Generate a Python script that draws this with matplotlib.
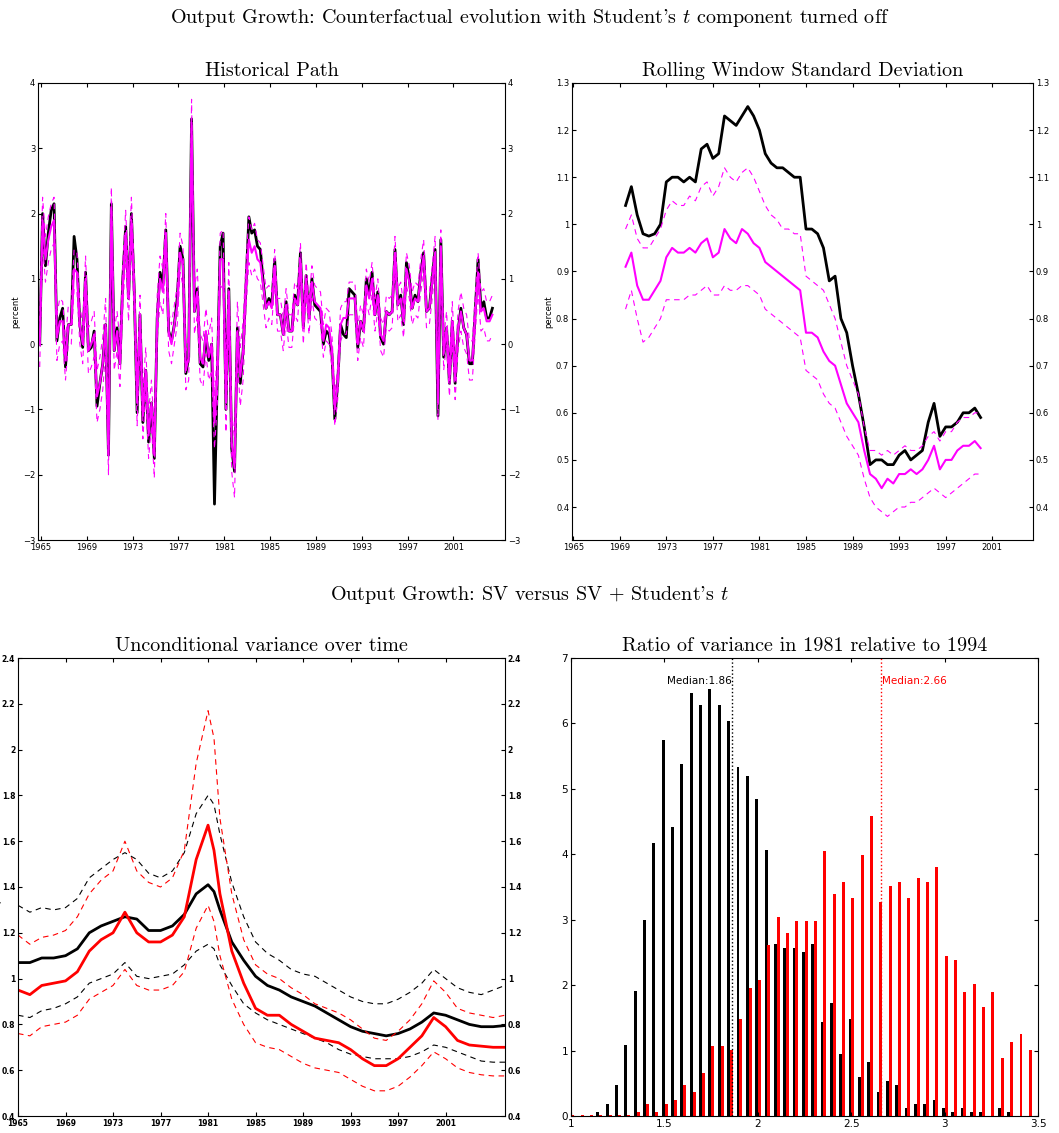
import matplotlib
matplotlib.use("Agg")
import matplotlib.pyplot as plt
import numpy as np

plt.rcParams['mathtext.fontset'] = 'cm'

# ---- panel 1: historical path (quarterly, 1965Q1 onward)
actual = [0.0, 2.0, 1.2, 1.7, 2.05, 2.15, 0.05, 0.4, 0.55, -0.35, 0.3, 0.3,
          1.65, 1.3, 0.3, -0.05, 1.1, -0.1, -0.05, 0.2, -0.95, -0.6, -0.3, 0.3,
          -1.7, 2.15, -0.1, 0.25, -0.3, 1.0, 1.8, 0.7, 2.0, 0.8, -1.05, 0.45,
          -1.2, -0.4, -1.5, -0.9, -1.75, 0.4, 1.1, 0.9, 1.75, 0.2, 0.05, 0.3,
          0.7, 1.5, 1.3, -0.45, -0.2, 3.45, 0.5, 0.85, -0.3, -0.35, 0.15, -0.25,
          0.0, -2.45, -0.5, 1.5, 1.7, -1.0, 0.85, -1.6, -1.95, 0.25, -0.6, -0.1,
          0.9, 1.95, 1.7, 1.75, 1.5, 1.45, 0.95, 0.55, 0.7, 0.6, 1.3, 0.45,
          0.45, 0.15, 0.65, 0.2, 0.2, 0.75, 0.6, 1.4, 0.25, 1.05, 0.4, 1.0,
          0.6, 0.55, 0.5, 0.0, 0.2, 0.15, -0.15, -1.15, -0.6, 0.3, 0.15, 0.1,
          0.85, 0.8, 0.75, -0.05, 0.35, 0.2, 1.0, 0.75, 1.1, 0.45, 0.8, 0.1,
          0.0, 0.5, 0.45, 0.5, 1.45, 0.6, 0.75, 0.3, 1.25, 1.0, 0.55, 0.75,
          0.65, 1.1, 1.4, 0.5, 0.55, 1.0, 1.45, -1.1, 1.6, -0.2, 0.25, -0.6,
          0.35, -0.6, 0.2, 0.55, 0.25, 0.15, -0.3, -0.3, 0.5, 1.3, 0.55, 0.65,
          0.4, 0.4, 0.55]
counterf = [0.0, 1.9, 1.3, 1.6, 1.8, 1.9, 0.1, 0.35, 0.35, -0.25, 0.3, 0.3,
            1.15, 1.1, 0.3, 0.0, 1.0, -0.1, 0.0, 0.15, -0.8, -0.6, -0.3, 0.3,
            -1.7, 2.1, -0.1, 0.2, -0.3, 0.9, 1.7, 0.7, 1.9, 0.8, -0.9, 0.4,
            -1.1, -0.4, -1.4, -0.9, -1.7, 0.4, 1.0, 0.8, 1.7, 0.2, 0.0, 0.3,
            0.6, 1.4, 1.2, -0.4, -0.2, 3.4, 0.5, 0.8, -0.2, -0.3, 0.2, -0.2,
            0.0, -1.2, -0.5, 1.3, 1.3, -0.9, 0.8, -1.5, -1.9, 0.2, -0.5, -0.1,
            0.9, 1.6, 1.4, 1.5, 1.3, 1.25, 0.9, 0.55, 0.65, 0.55, 1.2, 0.45,
            0.45, 0.15, 0.6, 0.2, 0.2, 0.7, 0.6, 1.3, 0.25, 1.0, 0.4, 0.95,
            0.65, 0.6, 0.55, 0.05, 0.3, 0.25, -0.1, -1.0, -0.6, 0.3, 0.4, 0.4,
            0.7, 0.7, 0.7, 0.0, 0.35, 0.2, 0.9, 0.7, 1.0, 0.45, 0.75, 0.15,
            0.05, 0.5, 0.45, 0.5, 1.4, 0.6, 0.7, 0.35, 1.15, 0.95, 0.55, 0.7,
            0.65, 1.05, 1.35, 0.5, 0.55, 0.95, 1.4, -0.9, 1.5, -0.15, 0.25, -0.55,
            0.35, -0.55, 0.2, 0.5, 0.25, 0.15, -0.25, -0.25, 0.45, 1.1, 0.5, 0.55,
            0.35, 0.35, 0.45]
band_width = [0.35, 0.35, 0.3, 0.3, 0.35, 0.4, 0.3, 0.35, 0.35, 0.35,
              0.35, 0.3, 0.3, 0.35, 0.35, 0.4, 0.45, 0.45, 0.35, 0.3,
              0.25, 0.25, 0.25, 0.25, 0.25, 0.25, 0.25, 0.25, 0.25, 0.25,
              0.25, 0.25, 0.25, 0.25, 0.25, 0.25, 0.3, 0.3, 0.3, 0.3, 0.3]

# ---- panel 2: rolling window std (semiannual, 1969.5 - 2000.0)
roll_actual = [1.04, 1.08, 1.02, 0.98, 0.975, 0.98, 1.0, 1.09, 1.10, 1.10,
               1.09, 1.10, 1.09, 1.16, 1.17, 1.14, 1.15, 1.23, 1.22, 1.21,
               1.23, 1.25, 1.23, 1.20, 1.15, 1.13, 1.12, 1.12, 1.11, 1.10,
               1.10, 0.99, 0.99, 0.98, 0.95, 0.88, 0.89, 0.80, 0.77, 0.70,
               0.64, 0.57, 0.49, 0.50, 0.50, 0.49, 0.49, 0.51, 0.52, 0.50,
               0.51, 0.52, 0.58, 0.62, 0.55, 0.57, 0.57, 0.58, 0.60, 0.60,
               0.61, 0.59]
roll_cf = [0.91, 0.94, 0.87, 0.84, 0.84, 0.86, 0.88, 0.93, 0.95, 0.94,
           0.94, 0.95, 0.94, 0.96, 0.97, 0.93, 0.94, 0.99, 0.97, 0.96,
           0.99, 0.98, 0.96, 0.95, 0.92, 0.91, 0.90, 0.89, 0.88, 0.87,
           0.86, 0.77, 0.77, 0.76, 0.73, 0.71, 0.70, 0.66, 0.62, 0.60,
           0.58, 0.52, 0.47, 0.46, 0.44, 0.46, 0.45, 0.47, 0.47, 0.48,
           0.47, 0.48, 0.50, 0.53, 0.48, 0.50, 0.50, 0.52, 0.53, 0.53,
           0.54, 0.525]
roll_up = [0.99, 1.02, 0.97, 0.95, 0.95, 0.97, 0.99, 1.03, 1.05, 1.04,
           1.04, 1.06, 1.05, 1.08, 1.09, 1.06, 1.08, 1.12, 1.10, 1.09,
           1.11, 1.12, 1.10, 1.07, 1.04, 1.02, 1.01, 0.99, 0.99, 0.98,
           0.98, 0.89, 0.88, 0.87, 0.86, 0.83, 0.80, 0.75, 0.70, 0.67,
           0.64, 0.57, 0.52, 0.52, 0.51, 0.52, 0.51, 0.52, 0.53, 0.52,
           0.52, 0.53, 0.55, 0.56, 0.54, 0.56, 0.56, 0.58, 0.59, 0.59,
           0.60, 0.60]
roll_lo = [0.82, 0.86, 0.80, 0.75, 0.76, 0.78, 0.80, 0.84, 0.84, 0.84,
           0.84, 0.85, 0.85, 0.86, 0.87, 0.85, 0.85, 0.87, 0.86, 0.86,
           0.87, 0.87, 0.86, 0.85, 0.82, 0.81, 0.80, 0.79, 0.78, 0.77,
           0.76, 0.69, 0.68, 0.67, 0.64, 0.62, 0.61, 0.58, 0.55, 0.53,
           0.51, 0.46, 0.42, 0.40, 0.39, 0.38, 0.39, 0.40, 0.40, 0.41,
           0.41, 0.42, 0.43, 0.44, 0.43, 0.42, 0.43, 0.44, 0.45, 0.46,
           0.47, 0.47]

# ---- panel 3: unconditional variance
var_years = [1965, 1966, 1967, 1968, 1969, 1970, 1971, 1972, 1973, 1974, 1975,
             1976, 1977, 1978, 1979, 1980, 1981, 1981.5, 1982, 1983, 1984, 1985,
             1986, 1987, 1988, 1989, 1990, 1991, 1992, 1993, 1994, 1995, 1996,
             1997, 1998, 1999, 2000, 2001, 2002, 2003, 2004, 2005, 2006]
sv = [1.07, 1.07, 1.09, 1.09, 1.10, 1.13, 1.20, 1.23, 1.25, 1.27, 1.26, 1.21,
      1.21, 1.23, 1.28, 1.37, 1.41, 1.38, 1.30, 1.16, 1.08, 1.01, 0.97, 0.95,
      0.92, 0.90, 0.88, 0.85, 0.82, 0.79, 0.77, 0.76, 0.75, 0.76, 0.78, 0.81,
      0.85, 0.84, 0.82, 0.80, 0.79, 0.79, 0.795]
sv_up = [1.32, 1.29, 1.31, 1.30, 1.31, 1.35, 1.44, 1.48, 1.52, 1.55, 1.52, 1.46,
         1.44, 1.47, 1.55, 1.72, 1.80, 1.76, 1.63, 1.42, 1.27, 1.16, 1.11, 1.08,
         1.04, 1.02, 1.01, 0.98, 0.95, 0.92, 0.90, 0.89, 0.89, 0.91, 0.94, 0.98,
         1.04, 1.00, 0.96, 0.94, 0.93, 0.95, 0.97]
sv_lo = [0.84, 0.83, 0.86, 0.87, 0.89, 0.92, 0.98, 1.00, 1.02, 1.07, 1.01, 1.00,
         1.01, 1.02, 1.06, 1.12, 1.15, 1.13, 1.06, 0.97, 0.89, 0.85, 0.82, 0.80,
         0.78, 0.76, 0.74, 0.72, 0.69, 0.67, 0.66, 0.65, 0.65, 0.65, 0.66, 0.68,
         0.71, 0.70, 0.68, 0.66, 0.64, 0.635, 0.635]
svt = [0.95, 0.93, 0.97, 0.98, 0.99, 1.03, 1.12, 1.17, 1.20, 1.29, 1.20, 1.16,
       1.16, 1.19, 1.27, 1.52, 1.67, 1.56, 1.37, 1.12, 0.98, 0.87, 0.84, 0.84,
       0.80, 0.77, 0.74, 0.73, 0.72, 0.69, 0.65, 0.62, 0.62, 0.65, 0.70, 0.75,
       0.83, 0.79, 0.73, 0.71, 0.705, 0.70, 0.70]
svt_up = [1.19, 1.15, 1.18, 1.19, 1.21, 1.27, 1.37, 1.43, 1.47, 1.60, 1.47, 1.42,
          1.40, 1.44, 1.56, 1.94, 2.17, 2.05, 1.70, 1.37, 1.17, 1.06, 1.02, 1.00,
          0.96, 0.93, 0.89, 0.87, 0.85, 0.82, 0.78, 0.74, 0.73, 0.77, 0.82, 0.89,
          0.99, 0.94, 0.87, 0.85, 0.84, 0.83, 0.84]
svt_lo = [0.76, 0.75, 0.79, 0.80, 0.81, 0.84, 0.91, 0.94, 0.97, 1.04, 0.97, 0.95,
          0.95, 0.97, 1.03, 1.22, 1.32, 1.25, 1.10, 0.91, 0.80, 0.72, 0.70, 0.69,
          0.66, 0.63, 0.61, 0.60, 0.59, 0.56, 0.53, 0.51, 0.51, 0.53, 0.57, 0.62,
          0.68, 0.65, 0.61, 0.59, 0.58, 0.575, 0.575]

# ---- panel 4: histogram of variance ratio
bins = [1.0, 1.05, 1.1, 1.15, 1.2, 1.25, 1.3, 1.35, 1.4, 1.45, 1.5, 1.55, 1.6,
        1.65, 1.7, 1.75, 1.8, 1.85, 1.9, 1.95, 2.0, 2.05, 2.1, 2.15, 2.2, 2.25,
        2.3, 2.35, 2.4, 2.45, 2.5, 2.55, 2.6, 2.65, 2.7, 2.75, 2.8, 2.85, 2.9,
        2.95, 3.0, 3.05, 3.1, 3.15, 3.2, 3.25, 3.3, 3.35, 3.4, 3.45, 3.5]
hist_sv = [0, 0, 0, 0.06, 0.18, 0.48, 1.08, 1.91, 3.0, 4.18, 5.74, 4.42, 5.38,
           6.47, 6.28, 6.52, 6.28, 6.04, 5.33, 5.20, 4.84, 4.07, 2.63, 2.57, 2.57,
           2.51, 2.63, 1.43, 1.73, 0.95, 1.49, 0.59, 0.83, 0.36, 0.54, 0.48, 0.12,
           0.18, 0.18, 0.24, 0.12, 0.06, 0.12, 0.06, 0.06, 0, 0.12, 0.06, 0, 0, 0]
hist_svt = [0.01, 0.01, 0.01, 0.01, 0.01, 0.01, 0.01, 0.06, 0.18, 0.06, 0.18, 0.24,
            0.48, 0.36, 0.65, 1.07, 1.07, 1.01, 1.49, 1.96, 2.08, 2.62, 3.04, 2.80,
            2.98, 2.98, 2.98, 4.05, 3.39, 3.57, 3.33, 3.99, 4.58, 3.27, 3.51, 3.57,
            3.33, 3.63, 3.57, 3.81, 2.44, 2.38, 1.90, 2.02, 1.66, 1.90, 0.89, 1.13,
            1.25, 1.01, 1.0]
median_sv = 1.86
median_svt = 2.66

year_ticks = list(range(1965, 2004, 4))
W, H = 1059, 1133


def box(x0, y0, x1, y1):
    return [x0 / W, 1 - y1 / H, (x1 - x0) / W, (y1 - y0) / H]


def style(ax, right_labels=True, size=6):
    ax.tick_params(direction='in', top=True, right=True, labelsize=size,
                   labelright=right_labels, length=3, pad=2)
    for s in ax.spines.values():
        s.set_linewidth(0.8)


fig = plt.figure(figsize=(W / 100, H / 100), dpi=100)
tfont = dict(family=['cmr10', 'DejaVu Serif'], fontsize=14.5)

fig.text(0.5, 0.984, "Output Growth: Counterfactual evolution with Student's $t$ component turned off",
         ha='center', va='center', **tfont)
fig.text(0.5, 0.475, "Output Growth: SV versus SV + Student's $t$", ha='center', va='center', **tfont)

dash = (0, (5, 4))

# panel 1
ax1 = fig.add_axes(box(38, 83, 505, 540))
q = 1964.9 + 0.25 * np.arange(len(actual))
bw = np.repeat(band_width, 4)[:len(counterf)]
cf = np.array(counterf)
ax1.plot(q, actual, color='black', lw=2)
ax1.plot(q, cf, color='magenta', lw=1.5)
ax1.plot(q, cf + bw, color='magenta', lw=0.8, ls=dash)
ax1.plot(q, cf - bw, color='magenta', lw=0.8, ls=dash)
ax1.set_xlim(1964.75, 2005.5)
ax1.set_ylim(-3, 4)
ax1.set_xticks(year_ticks)
ax1.set_ylabel('percent', fontsize=6, labelpad=2)
ax1.set_title('Historical Path', pad=5, **tfont)
style(ax1)

# panel 2
ax2 = fig.add_axes(box(572, 83, 1033, 540))
sx = 1969.5 + 0.5 * np.arange(len(roll_actual))
ax2.plot(sx, roll_actual, color='black', lw=2)
ax2.plot(sx, roll_cf, color='magenta', lw=1.5)
ax2.plot(sx, roll_up, color='magenta', lw=0.8, ls=dash)
ax2.plot(sx, roll_lo, color='magenta', lw=0.8, ls=dash)
ax2.set_xlim(1964.9, 2004.5)
ax2.set_ylim(0.33, 1.3)
ax2.set_yticks(np.arange(0.4, 1.31, 0.1))
ax2.set_yticklabels(['0.4', '0.5', '0.6', '0.7', '0.8', '0.9', '1', '1.1', '1.2', '1.3'])
ax2.set_xticks(year_ticks)
ax2.set_ylabel('percent', fontsize=6, labelpad=2)
ax2.set_title('Rolling Window Standard Deviation', pad=5, **tfont)
style(ax2)

# panel 3
ax3 = fig.add_axes(box(18, 658, 505, 1116))
ax3.plot(var_years, sv, color='black', lw=2)
ax3.plot(var_years, sv_up, color='black', lw=0.8, ls=dash)
ax3.plot(var_years, sv_lo, color='black', lw=0.8, ls=dash)
ax3.plot(var_years, svt, color='red', lw=2)
ax3.plot(var_years, svt_up, color='red', lw=0.8, ls=dash)
ax3.plot(var_years, svt_lo, color='red', lw=0.8, ls=dash)
ax3.set_xlim(1965, 2006)
ax3.set_ylim(0.4, 2.4)
ax3.set_yticks(np.arange(0.4, 2.41, 0.2))
ax3.set_yticklabels(['0.4', '0.6', '0.8', '1', '1.2', '1.4', '1.6', '1.8', '2', '2.2', '2.4'])
ax3.set_xticks(year_ticks)
ax3.set_ylabel('percent', fontsize=6, labelpad=0)
ax3.set_title('Unconditional variance over time', pad=5, **tfont)
style(ax3, size=5.5)
for lab in ax3.get_yticklabels() + ax3.get_xticklabels():
    lab.set_fontweight('bold')
for t in ax3.yaxis.get_major_ticks():
    t.label2.set_fontweight('bold')

# panel 4
ax4 = fig.add_axes(box(571, 658, 1038, 1116))
b = np.array(bins)
ax4.bar(b - 0.006, hist_sv, width=0.016, color='black')
ax4.bar(b + 0.009, hist_svt, width=0.016, color='red')
ax4.axvline(median_sv, color='black', ls=':', lw=1)
ax4.axvline(median_svt, color='red', ls=':', lw=1)
ax4.text(median_sv, 6.65, f'Median:{median_sv:.2f}', ha='right', va='center', fontsize=7.5)
ax4.text(median_svt + 0.005, 6.65, f'Median:{median_svt:.2f}', ha='left', va='center',
         fontsize=7.5, color='red')
ax4.set_xlim(1, 3.5)
ax4.set_ylim(0, 7)
ax4.set_xticks([1, 1.5, 2, 2.5, 3, 3.5])
ax4.set_xticklabels(['1', '1.5', '2', '2.5', '3', '3.5'])
ax4.set_title('Ratio of variance in 1981 relative to 1994', pad=5, **tfont)
style(ax4, right_labels=False, size=7.5)

fig.savefig('out.png', dpi=100)
